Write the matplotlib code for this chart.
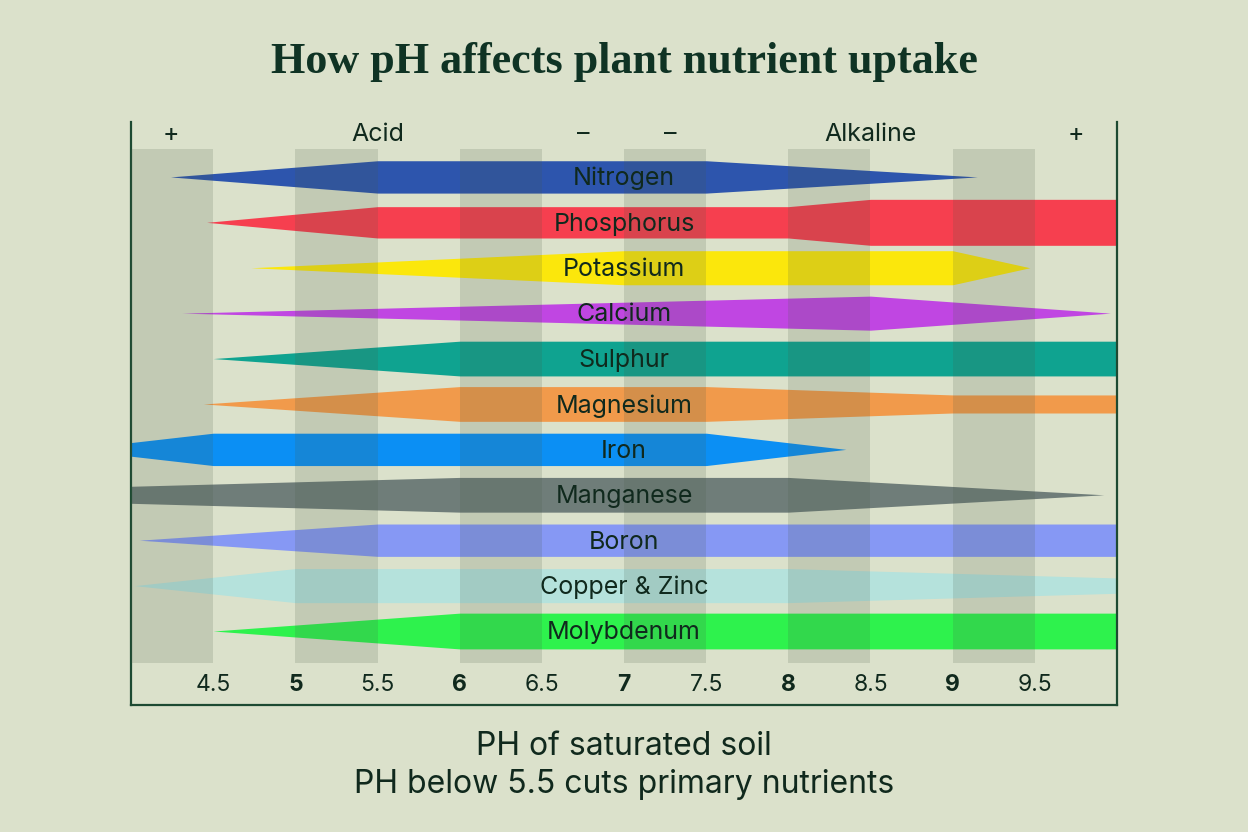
import matplotlib
matplotlib.use("Agg")
import matplotlib.pyplot as plt
import numpy as np

# nutrients, top to bottom
nutrients = ["Nitrogen", "Phosphorus", "Potassium", "Calcium", "Sulphur", "Magnesium",
             "Iron", "Manganese", "Boron", "Copper & Zinc", "Molybdenum"]
colors = ["#2d55ad", "#f63f4f", "#fbe70c", "#c046e2", "#0fa390", "#f19a4b",
          "#0b8ff4", "#6f7d79", "#8698f4", "#b5e2dc", "#2ef24d"]

# availability profile per nutrient: pH points and relative band thickness
ph_points = [
    [4.24, 5.5, 7.5, 9.15],
    [4.46, 5.5, 8.0, 8.5, 10.0],
    [4.73, 7.0, 9.0, 9.47],
    [4.31, 8.5, 9.96],
    [4.5, 6.0, 10.0],
    [4.44, 6.0, 7.5, 9.0, 10.0],
    [4.0, 4.5, 7.5, 8.35],
    [4.0, 6.0, 8.0, 9.92],
    [4.05, 5.5, 10.0],
    [4.02, 5.0, 8.0, 10.0],
    [4.5, 6.0, 10.0],
]
thickness = [
    [0, 0.95, 0.95, 0],
    [0, 0.92, 0.92, 1.35, 1.35],
    [0, 1.0, 1.0, 0],
    [0, 1.0, 0],
    [0, 1.02, 1.02],
    [0, 1.02, 1.02, 0.53, 0.53],
    [0.4, 0.95, 0.95, 0],
    [0.5, 1.02, 1.02, 0],
    [0, 0.95, 0.95],
    [0, 1.0, 1.0, 0.45],
    [0, 1.05, 1.05],
]

tick_values = [4.5, 5, 5.5, 6, 6.5, 7, 7.5, 8, 8.5, 9, 9.5]
tick_labels = ["4.5", "5", "5.5", "6", "6.5", "7", "7.5", "8", "8.5", "9", "9.5"]
shade_starts = [4.0, 5.0, 6.0, 7.0, 8.0, 9.0]
top_labels = ["+", "Acid", "–", "–", "Alkaline", "+"]
top_label_ph = [4.24, 5.5, 6.75, 7.28, 8.5, 9.75]

bg = "#dbe1cb"
ink = "#10291d"
frame = "#1d4a32"

plt.rcParams["font.family"] = ["Inter", "DejaVu Sans"]

fig = plt.figure(figsize=(12.48, 8.32), dpi=100, facecolor=bg)
ax = fig.add_axes([0.105, 0.1526, 0.79, 0.7008])
ax.set_facecolor(bg)
ax.set_xlim(4.0, 10.0)
ax.set_ylim(11.63, -1.21)

unit = 0.375  # half of full thickness in row units
for i, name in enumerate(nutrients):
    x = np.array(ph_points[i])
    h = np.array(thickness[i]) * unit
    ax.fill_between(x, i - h, i + h, color=colors[i], lw=0, zorder=2)

# shaded pH columns drawn over the bands
for s in shade_starts:
    ax.axvspan(s, s + 0.5, ymin=(11.63 - 10.70) / 12.84, ymax=(11.63 + 0.617) / 12.84,
               color="#4a5a48", alpha=0.17, lw=0, zorder=3)

for i, name in enumerate(nutrients):
    ax.text(7.0, i + 0.04, name, ha="center", va="center", fontsize=18, color=ink, zorder=4)

for v, lab in zip(tick_values, tick_labels):
    bold = float(v).is_integer()
    ax.text(v, 11.19, lab, ha="center", va="center", fontsize=16.5, color=ink,
            fontweight="bold" if bold else "normal", zorder=4)

for v, lab in zip(top_label_ph, top_labels):
    ax.text(v, -0.93, lab, ha="center", va="center", fontsize=18, color=ink, zorder=4)

ax.set_xticks([])
ax.set_yticks([])
ax.spines["top"].set_visible(False)
for side in ["left", "right", "bottom"]:
    ax.spines[side].set_color(frame)
    ax.spines[side].set_linewidth(1.6)

fig.text(0.5, 0.926, "How pH affects plant nutrient uptake", ha="center", va="center",
         fontsize=31.8, color="#0f3324", fontweight="bold", family=["Liberation Serif"])
fig.text(0.5, 0.103, "PH of saturated soil", ha="center", va="center", fontsize=23, color=ink)
fig.text(0.5, 0.057, "PH below 5.5 cuts primary nutrients", ha="center", va="center",
         fontsize=23, color=ink)

fig.savefig("out.png", dpi=100, facecolor=bg)
